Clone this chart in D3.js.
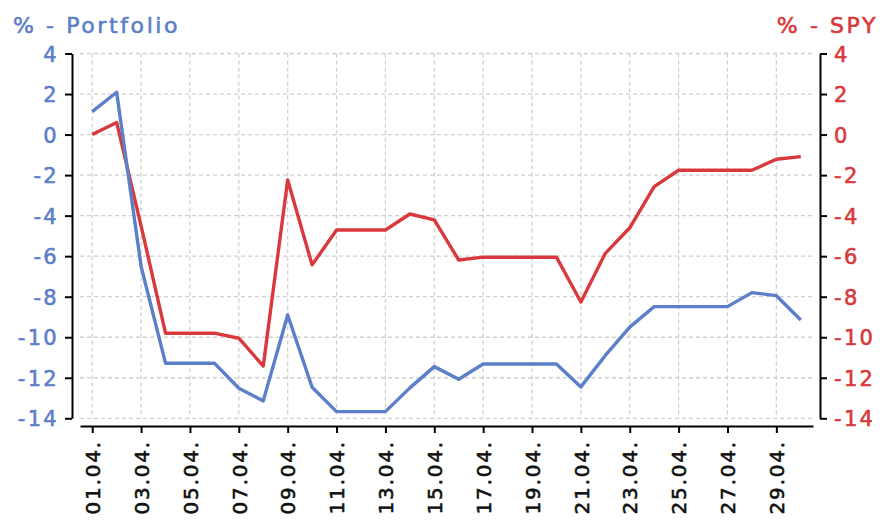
<!DOCTYPE html>
<html>
<head>
<meta charset="utf-8">
<script src="https://cdn.jsdelivr.net/npm/d3@7"></script>
<style>
  html, body { margin: 0; padding: 0; background: #ffffff; }
  svg { display: block; font-family: "DejaVu Sans", sans-serif; }
</style>
</head>
<body>
<svg id="chart" width="880" height="524"></svg>
<script>
// ---- data ----
const days = d3.range(1, 31);
const dayLabels = days.map(d => String(d).padStart(2, "0") + ".04.");
const xTickDays = [1, 3, 5, 7, 9, 11, 13, 15, 17, 19, 21, 23, 25, 27, 29];
const yTicks = [4, 2, 0, -2, -4, -6, -8, -10, -12, -14];
const portfolio = [1.13, 2.09, -6.5, -11.28, -11.28, -11.28, -12.52, -13.14, -8.9, -12.47,
                   -13.67, -13.67, -13.67, -12.5, -11.45, -12.07, -11.32, -11.32, -11.32, -11.32,
                   -12.45, -10.9, -9.5, -8.49, -8.49, -8.49, -8.49, -7.8, -7.95, -9.15];
const spy = [0.0, 0.6, -4.5, -9.8, -9.8, -9.8, -10.05, -11.42, -2.24, -6.43,
             -4.71, -4.71, -4.71, -3.92, -4.21, -6.19, -6.05, -6.05, -6.05, -6.05,
             -8.26, -5.86, -4.6, -2.57, -1.76, -1.76, -1.76, -1.76, -1.22, -1.09];
const leftTitle = "% - Portfolio";
const rightTitle = "% - SPY";

// ---- styles ----
const blue = "#5b7fc8";
const red = "#d9393c";
const gridColor = "#d0d0d0";

const svg = d3.select("#chart");

const plotL = 80, plotR = 813, plotT = 53.5, plotB = 418.3;
const x = d3.scaleLinear().domain([0.5, 30.5]).range([plotL, plotR]);
const yL = d3.scaleLinear().domain([-14, 4]).range([plotB, plotT]);
const yR = d3.scaleLinear().domain([-14, 4]).range([plotB, plotT]);
const fmt = d => String(d);

// grid
const grid = svg.append("g");
grid.selectAll("line.h").data(yTicks).join("line")
  .attr("x1", plotL).attr("x2", plotR)
  .attr("y1", d => yL(d)).attr("y2", d => yL(d))
  .attr("stroke", gridColor).attr("stroke-width", 1.3).attr("stroke-dasharray", "4,3");
grid.selectAll("line.v").data(xTickDays).join("line")
  .attr("x1", d => x(d)).attr("x2", d => x(d))
  .attr("y1", plotT).attr("y2", plotB)
  .attr("stroke", gridColor).attr("stroke-width", 1.3).attr("stroke-dasharray", "4,3");

// lines
const lineL = d3.line().x((d, i) => x(days[i])).y(d => yL(d));
const lineR = d3.line().x((d, i) => x(days[i])).y(d => yR(d));
svg.append("path").datum(spy).attr("d", lineR)
  .attr("fill", "none").attr("stroke", red).attr("stroke-width", 3.4).attr("stroke-linejoin", "round");
svg.append("path").datum(portfolio).attr("d", lineL)
  .attr("fill", "none").attr("stroke", blue).attr("stroke-width", 3.4).attr("stroke-linejoin", "round");

// left axis (offset spine)
const axL = svg.append("g").attr("transform", "translate(72,0)")
  .call(d3.axisLeft(yL).tickValues(yTicks).tickFormat(fmt).tickSize(7).tickPadding(6).tickSizeOuter(0));
axL.select(".domain").attr("stroke", "#000").attr("stroke-width", 2);
axL.selectAll(".tick line").attr("stroke", "#000").attr("stroke-width", 2);
axL.selectAll(".tick text").attr("fill", blue).attr("font-size", 21)
  .attr("font-family", "DejaVu Sans").attr("letter-spacing", 2.3)
  .attr("stroke", blue).attr("stroke-width", 0.6)
  .attr("dy", "0.36em");

// right axis
const axR = svg.append("g").attr("transform", "translate(820,0)")
  .call(d3.axisRight(yR).tickValues(yTicks).tickFormat(fmt).tickSize(7).tickPadding(7).tickSizeOuter(0));
axR.select(".domain").attr("stroke", "#000").attr("stroke-width", 2);
axR.selectAll(".tick line").attr("stroke", "#000").attr("stroke-width", 2);
axR.selectAll(".tick text").attr("fill", red).attr("font-size", 21)
  .attr("font-family", "DejaVu Sans").attr("letter-spacing", 2.3)
  .attr("stroke", red).attr("stroke-width", 0.6)
  .attr("dy", "0.36em");

// bottom axis
const axB = svg.append("g").attr("transform", "translate(0,426)")
  .call(d3.axisBottom(x).tickValues(xTickDays).tickSize(7).tickSizeOuter(0)
    .tickFormat(d => dayLabels[d - 1]));
axB.select(".domain").attr("stroke", "#000").attr("stroke-width", 2);
axB.selectAll(".tick line").attr("stroke", "#000").attr("stroke-width", 2);
axB.selectAll(".tick text")
  .attr("fill", "#111").attr("stroke", "#111").attr("stroke-width", 0.6)
  .attr("font-size", 20).attr("font-family", "DejaVu Sans")
  .attr("letter-spacing", 1.8)
  .attr("text-anchor", "end")
  .attr("transform", "rotate(-90)")
  .attr("x", -14).attr("y", 0).attr("dy", "0.36em");

// titles
svg.append("text").attr("x", 13).attr("y", 33).text(leftTitle)
  .attr("fill", blue).attr("stroke", blue).attr("stroke-width", 0.6)
  .attr("font-size", 22).attr("letter-spacing", 2.6);
svg.append("text").attr("x", 878).attr("y", 33).text(rightTitle)
  .attr("fill", red).attr("stroke", red).attr("stroke-width", 0.6)
  .attr("font-size", 22).attr("letter-spacing", 2.6)
  .attr("text-anchor", "end");
</script>
</body>
</html>
